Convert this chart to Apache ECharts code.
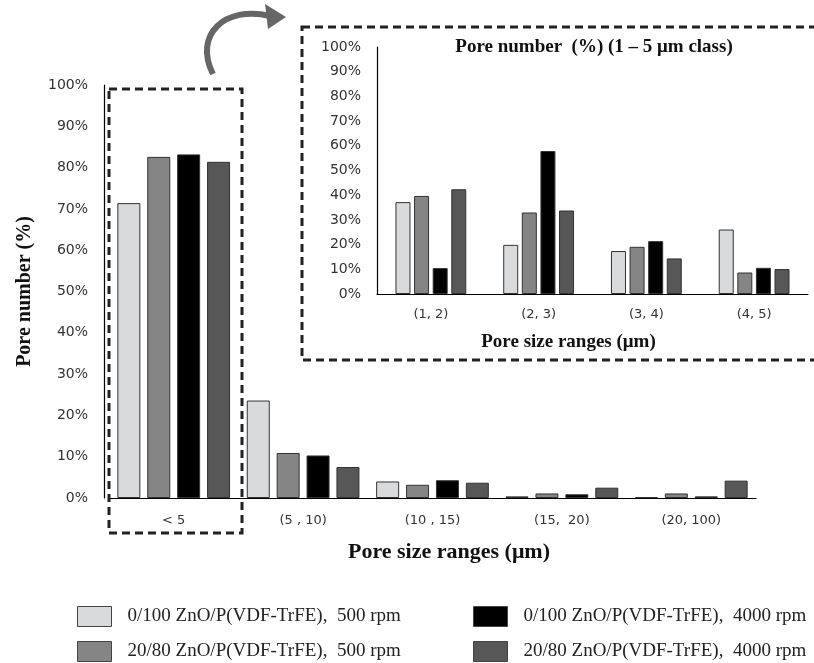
<!DOCTYPE html>
<html><head><meta charset="utf-8">
<script src="https://cdn.jsdelivr.net/npm/echarts@6/dist/echarts.min.js"></script>
<style>html,body{margin:0;padding:0;background:#fff}#c{width:814px;height:663px}</style>
</head><body><div id="c"></div>
<script>
const mainCategories = ['< 5', '(5 , 10)', '(10 , 15)', '(15,  20)', '(20, 100)'];
const insetCategories = ['(1, 2)', '(2, 3)', '(3, 4)', '(4, 5)'];
const seriesNames = [
  '0/100 ZnO/P(VDF-TrFE),  500 rpm',
  '20/80 ZnO/P(VDF-TrFE),  500 rpm',
  '0/100 ZnO/P(VDF-TrFE),  4000 rpm',
  '20/80 ZnO/P(VDF-TrFE),  4000 rpm'
];
const mainA = [71.4, 23.6, 4.0, 0.4, 0.2];
const mainB = [82.6, 10.9, 3.2, 1.1, 1.1];
const mainC = [83.2, 10.3, 4.3, 0.9, 0.4];
const mainD = [81.4, 7.5, 3.7, 2.5, 4.2];
const insetA = [37.2, 19.9, 17.4, 26.1];
const insetB = [39.7, 33.0, 19.1, 8.7];
const insetC = [10.5, 57.9, 21.4, 10.6];
const insetD = [42.4, 33.8, 14.4, 10.1];
const colors = ['#d9dadb', '#858585', '#000000', '#575757'];

const chart = echarts.init(document.getElementById('c'));
const serif = 'Liberation Serif';
const sans = 'DejaVu Sans';
const mainData = [mainA, mainB, mainC, mainD];
const insetData = [insetA, insetB, insetC, insetD];
const series = [];
for (let i = 0; i < 4; i++) {
  series.push({
    name: seriesNames[i], type: 'bar', xAxisIndex: 0, yAxisIndex: 0,
    data: mainData[i], barWidth: 23, barGap: '30%',
    itemStyle: {color: colors[i], borderColor: '#333', borderWidth: 1}
  });
}
for (let i = 0; i < 4; i++) {
  series.push({
    name: seriesNames[i], type: 'bar', xAxisIndex: 1, yAxisIndex: 1,
    data: insetData[i], barWidth: 15, barGap: '24%',
    itemStyle: {color: colors[i], borderColor: '#333', borderWidth: 1}
  });
}
const axisLine = {show: true, lineStyle: {color: '#000', width: 1.2}};
const legendCommon = {
  orient: 'vertical', itemWidth: 34, itemHeight: 20, itemGap: 14, icon: 'rect', padding: 0,
  itemStyle: {borderColor: '#444', borderWidth: 1},
  textStyle: {fontFamily: serif, fontSize: 19, color: '#222', padding: [0, 0, 0, 11]},
  selectedMode: false
};
chart.setOption({
  animation: false,
  title: {
    text: 'Pore number  (%) (1 – 5 μm class)',
    left: 594, top: 38, textAlign: 'center', padding: 0,
    textStyle: {fontFamily: serif, fontSize: 19, fontWeight: 'bold', color: '#111'}
  },
  legend: [
    Object.assign({left: 77, top: 606, data: [seriesNames[0], seriesNames[1]]}, legendCommon),
    Object.assign({left: 473, top: 606, data: [seriesNames[2], seriesNames[3]]}, legendCommon)
  ],
  grid: [
    {left: 109, right: 58, top: 85, bottom: 165},
    {left: 377, right: 6, top: 47, bottom: 369}
  ],
  xAxis: [
    {type: 'category', gridIndex: 0, data: mainCategories, axisLine: axisLine, axisTick: {show: false},
     axisLabel: {fontFamily: sans, fontSize: 13, color: '#333', margin: 16},
     name: 'Pore size ranges (μm)', nameLocation: 'middle', nameGap: 43,
     nameTextStyle: {fontFamily: serif, fontSize: 22, fontWeight: 'bold', color: '#111', padding: [0, 0, 0, 33]}},
    {type: 'category', gridIndex: 1, data: insetCategories, axisLine: axisLine, axisTick: {show: false},
     axisLabel: {fontFamily: sans, fontSize: 13, color: '#333', margin: 14},
     name: 'Pore size ranges (μm)', nameLocation: 'middle', nameGap: 39,
     nameTextStyle: {fontFamily: serif, fontSize: 19, fontWeight: 'bold', color: '#111', padding: [0, 48, 0, 0]}}
  ],
  yAxis: [
    {type: 'value', gridIndex: 0, min: 0, max: 100, interval: 10, offset: 5, axisLine: axisLine, axisTick: {show: false},
     splitLine: {show: false},
     axisLabel: {fontFamily: sans, fontSize: 14, color: '#333', formatter: '{value}%', margin: 16},
     name: 'Pore number (%)', nameLocation: 'middle', nameGap: 69,
     nameTextStyle: {fontFamily: serif, fontSize: 20, fontWeight: 'bold', color: '#111'}},
    {type: 'value', gridIndex: 1, min: 0, max: 100, interval: 10, axisLine: axisLine, axisTick: {show: false},
     splitLine: {show: false},
     axisLabel: {fontFamily: sans, fontSize: 14, color: '#333', formatter: '{value}%', margin: 16}}
  ],
  series: series,
  graphic: [
    {type: 'rect', shape: {x: 109, y: 89, width: 133, height: 444}, z: 100,
     style: {fill: 'none', stroke: '#222', lineWidth: 3, lineDash: [8, 5]}},
    {type: 'rect', shape: {x: 302, y: 27, width: 540, height: 333}, z: 100,
     style: {fill: 'none', stroke: '#222', lineWidth: 3, lineDash: [8, 5]}},
    {type: 'bezierCurve', z: 100,
     shape: {x1: 213, y1: 74, cpx1: 193, cpy1: 35, cpx2: 225, cpy2: 5, x2: 270, y2: 16},
     style: {stroke: '#666', lineWidth: 6, fill: 'none'}},
    {type: 'polygon', z: 100,
     shape: {points: [[265, 4], [286, 17], [268, 29]]},
     style: {fill: '#666'}}
  ]
});
</script></body></html>
